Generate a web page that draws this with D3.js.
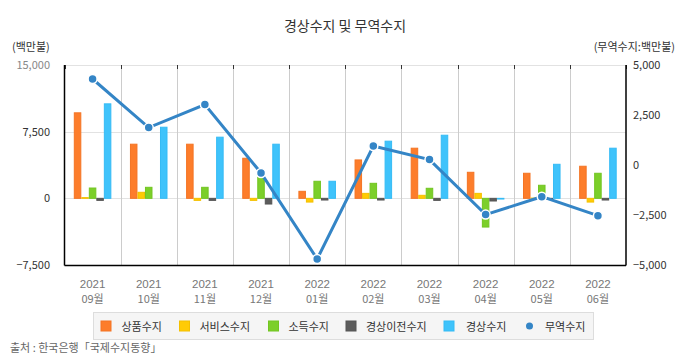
<!DOCTYPE html>
<html><head><meta charset="utf-8">
<script src="https://cdn.jsdelivr.net/npm/d3@7"></script>
<style>body{margin:0;background:#fff}svg{display:block;font-family:"Noto Sans CJK KR","Noto Sans",sans-serif}</style>
</head><body><svg id="c" width="690" height="360"></svg>
<script>
const yearLabels = ["2021","2021","2021","2021","2022","2022","2022","2022","2022","2022"];
const monthLabels = ["09월","10월","11월","12월","01월","02월","03월","04월","05월","06월"];
const seriesNames = ["상품수지","서비스수지","소득수지","경상이전수지","경상수지"];
const goods    = [9620, 6090, 6090, 4510, 790, 4320, 5640, 2930, 2820, 3610];
const services = [80, 680, -230, -230, -420, 560, 340, 560, 30, -420];
const income   = [1160, 1240, 1240, 2380, 1920, 1690, 1130, -3230, 1470, 2820];
const transfer = [-230, 0, -230, -640, -190, -190, -230, -300, -100, -190];
const current  = [10630, 8000, 6880, 6090, 1920, 6430, 7100, -80, 3830, 5640];
const trade    = [4300, 1870, 3020, -400, -4700, 950, 270, -2480, -1585, -2535];
const leftTicks = [15000, 7500, 0, -7500];
const rightTicks = [5000, 2500, 0, -2500, -5000];
const barColors = ["#fd7d2b","#ffcb05","#7ccf2a","#5c5c5c","#3fc3fb"];
const barStroke = ["#f47424","#f4c000","#72c522","#555555","#35bbf5"];
const lineColor = "#3485c6";

const svg = d3.select("#c");
const L = 64.5, R = 626, T = 65, B = 265;
const cats = d3.range(yearLabels.length);
const x = d3.scaleBand().domain(cats).range([L, R]);
const bw = x.bandwidth();
const xs = d3.scaleBand().domain(seriesNames).range([9.3, bw - 9.3]);
const yL = d3.scaleLinear().domain([-7500, 15000]).range([B, T]);
const yR = d3.scaleLinear().domain([-5000, 5000]).range([B, T]);
const fmt = d3.format(",");

// title & units
svg.append("text").attr("x", 345).attr("y", 31).attr("text-anchor", "middle")
  .attr("font-size", 14).attr("fill", "#333").text("경상수지 및 무역수지");
svg.append("text").attr("x", 12).attr("y", 51).attr("font-size", 11).attr("fill", "#333").text("(백만불)");
svg.append("text").attr("x", 675).attr("y", 51).attr("text-anchor", "end").attr("font-size", 11).attr("fill", "#333").text("(무역수지:백만불)");

// horizontal grid
svg.append("g").selectAll("line").data(leftTicks.filter(d => d > -7500)).join("line")
  .attr("x1", L).attr("x2", R).attr("y1", d => Math.round(yL(d)) + 0.5).attr("y2", d => Math.round(yL(d)) + 0.5)
  .attr("stroke", "#e2e2e2");
// vertical grid
svg.append("g").selectAll("line").data(cats.slice(1)).join("line")
  .attr("x1", d => Math.round(x(d)) + 0.5).attr("x2", d => Math.round(x(d)) + 0.5)
  .attr("y1", T).attr("y2", B).attr("stroke", "#cccccc");
// top ticks
svg.append("g").selectAll("line").data(cats.concat([cats.length])).join("line")
  .attr("x1", d => Math.round(d < cats.length ? x(d) : R) + 0.5)
  .attr("x2", d => Math.round(d < cats.length ? x(d) : R) + 0.5)
  .attr("y1", T).attr("y2", T + 4).attr("stroke", "#333");

// bars
const allSeries = [goods, services, income, transfer, current];
seriesNames.forEach((name, si) => {
  svg.append("g").selectAll("rect").data(allSeries[si]).join("rect")
    .attr("x", (d, i) => x(i) + xs(name) + 0.5)
    .attr("width", xs.bandwidth() - 1)
    .attr("y", d => Math.min(yL(d), yL(0)))
    .attr("height", d => Math.abs(yL(d) - yL(0)))
    .attr("fill", barColors[si]).attr("stroke", barStroke[si]).attr("stroke-width", 1);
});

// axes lines
svg.append("line").attr("x1", L).attr("x2", L).attr("y1", T).attr("y2", B + 0.5).attr("stroke", "#000").attr("stroke-width", 1.5);
svg.append("line").attr("x1", R).attr("x2", R).attr("y1", T).attr("y2", B + 0.5).attr("stroke", "#000").attr("stroke-width", 1.5);
svg.append("line").attr("x1", L).attr("x2", R).attr("y1", B + 0.5).attr("y2", B + 0.5).attr("stroke", "#000").attr("stroke-width", 1.5);

// line
const line = d3.line().x((d, i) => x(i) + bw / 2).y(d => yR(d));
svg.append("path").datum(trade).attr("d", line).attr("fill", "none")
  .attr("stroke", lineColor).attr("stroke-width", 3);
svg.append("g").selectAll("circle").data(trade).join("circle")
  .attr("cx", (d, i) => x(i) + bw / 2).attr("cy", d => yR(d)).attr("r", 4.5)
  .attr("fill", lineColor).attr("stroke", "#fff").attr("stroke-width", 1.5);

// left tick labels
svg.append("g").selectAll("text").data(leftTicks).join("text")
  .attr("x", 50).attr("y", d => yL(d) + 4).attr("text-anchor", "end").attr("font-size", 11)
  .attr("fill", d => d === 15000 ? "#888" : "#333").text(d => fmt(d));
// right tick labels
svg.append("g").selectAll("text").data(rightTicks).join("text")
  .attr("x", 633).attr("y", d => yR(d) + 4).attr("text-anchor", "start").attr("font-size", 11)
  .attr("fill", "#333").text(d => fmt(d));

// x labels
svg.append("g").selectAll("text").data(cats).join("text")
  .attr("x", d => x(d) + bw / 2).attr("y", 288).attr("text-anchor", "middle")
  .attr("font-family", "'Liberation Sans', Arial, sans-serif")
  .attr("font-size", 11.5).attr("fill", "#777").text(d => yearLabels[d]);
svg.append("g").selectAll("text").data(cats).join("text")
  .attr("x", d => x(d) + bw / 2).attr("y", 302.5).attr("text-anchor", "middle")
  .attr("font-size", 11).attr("fill", "#777").text(d => monthLabels[d]);

// legend
svg.append("rect").attr("x", 93.5).attr("y", 312.5).attr("width", 500).attr("height", 27)
  .attr("fill", "#f5f5f5").attr("stroke", "#dddddd");
const legSq = [101, 179.5, 268.5, 346, 444];
const legTx = [121.5, 199.5, 288.5, 366, 466];
seriesNames.forEach((n, i) => {
  svg.append("rect").attr("x", legSq[i]).attr("y", 321).attr("width", 10).attr("height", 10)
    .attr("fill", barColors[i]).attr("stroke", barStroke[i]);
  svg.append("text").attr("x", legTx[i]).attr("y", 330.5).attr("font-size", 11).attr("fill", "#333").text(n);
});
svg.append("circle").attr("cx", 529.5).attr("cy", 326).attr("r", 3.5).attr("fill", lineColor);
svg.append("text").attr("x", 545).attr("y", 330.5).attr("font-size", 11).attr("fill", "#333").text("무역수지");

// source
svg.append("text").attr("x", 10).attr("y", 352).attr("font-size", 11).attr("fill", "#666").text("출처 : 한국은행「국제수지동향」");
</script></body></html>
